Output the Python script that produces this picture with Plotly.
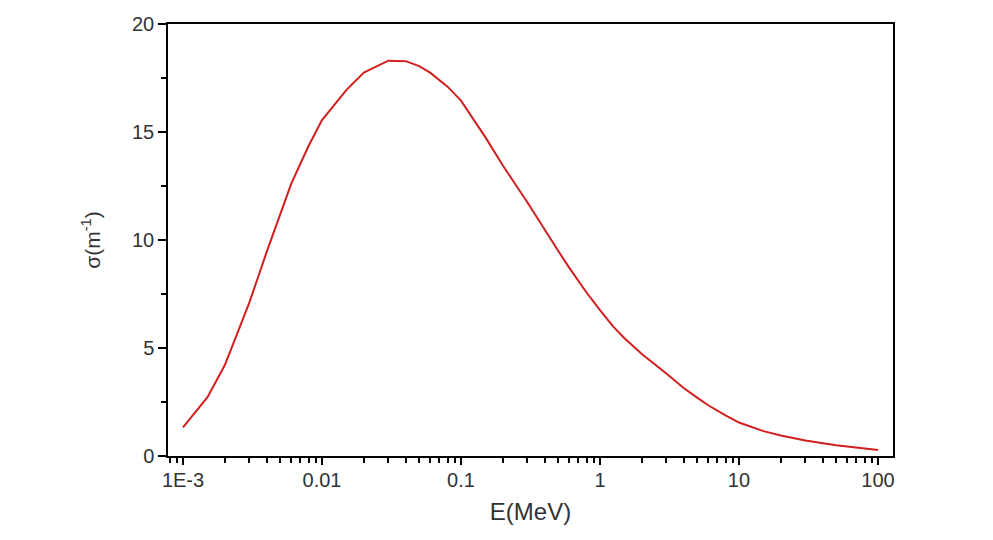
import plotly.graph_objects as go

energy_mev = [0.001, 0.0015, 0.002, 0.003, 0.004, 0.005, 0.006, 0.008,
              0.01, 0.015, 0.02, 0.03, 0.04, 0.05, 0.06, 0.08,
              0.1, 0.15, 0.2, 0.3, 0.4, 0.5, 0.6, 0.8,
              1, 1.25, 1.5, 2, 3, 4, 5, 6, 8,
              10, 15, 20, 30, 40, 50, 60, 80, 100]
sigma = [1.33, 2.72, 4.21, 7.1, 9.45, 11.2, 12.6, 14.35,
         15.55, 16.95, 17.75, 18.3, 18.28, 18.05, 17.75, 17.1,
         16.45, 14.75, 13.45, 11.75, 10.45, 9.5, 8.72, 7.57,
         6.75, 5.98, 5.45, 4.72, 3.82, 3.15, 2.7, 2.35, 1.88,
         1.55, 1.15, 0.95, 0.72, 0.58, 0.5, 0.44, 0.35, 0.28]

x_tickvals = [0.001, 0.01, 0.1, 1, 10, 100]
x_ticktext = ["1E-3", "0.01", "0.1", "1", "10", "100"]
x_minor_mantissas = [2, 3, 4, 5, 6, 7, 8, 9]
x_minor_decades = [0.0001, 0.001, 0.01, 0.1, 1, 10, 100]
y_tickvals = [0, 5, 10, 15, 20]

x_range = [-3.108, 2.108]
x_minor_vals = [m * d for d in x_minor_decades for m in x_minor_mantissas
                if 10 ** x_range[0] <= m * d <= 10 ** x_range[1]]

all_vals = x_tickvals + x_minor_vals
all_text = x_ticktext + ["" for _ in x_minor_vals]

fig = go.Figure()
fig.add_trace(go.Scatter(x=energy_mev, y=sigma, mode="lines",
                         line=dict(color="#d11f1f", width=2), showlegend=False))
# empty helper trace so the overlay axis (longer major ticks) is created
fig.add_trace(go.Scatter(x=[], y=[], xaxis="x2", yaxis="y", mode="lines",
                         showlegend=False, hoverinfo="skip"))

fig.update_layout(
    width=993, height=540,
    margin=dict(l=168, r=100, t=24, b=84),
    paper_bgcolor="white", plot_bgcolor="white",
    font=dict(family="Liberation Sans, Arial, sans-serif", color="#333333", size=20),
    xaxis=dict(
        type="log", range=x_range,
        tickmode="array", tickvals=all_vals, ticktext=all_text,
        ticks="outside", ticklen=5, tickwidth=1.5, tickcolor="black",
        showline=True, linecolor="black", linewidth=1.5, mirror=True,
        showgrid=False, zeroline=False,
        title=dict(text="E(MeV)", font=dict(size=24), standoff=13),
    ),
    xaxis2=dict(
        type="log", range=x_range, overlaying="x", anchor="y", side="bottom",
        tickmode="array", tickvals=x_tickvals, showticklabels=False,
        ticks="outside", ticklen=8, tickwidth=1.5, tickcolor="black",
        showline=False, showgrid=False, zeroline=False,
    ),
    yaxis=dict(
        range=[0, 20], tickvals=y_tickvals,
        ticks="outside", ticklen=8, tickwidth=1.5, tickcolor="black",
        minor=dict(dtick=2.5, ticks="outside", ticklen=5, tickwidth=1.5,
                   tickcolor="black", showgrid=False),
        showline=True, linecolor="black", linewidth=1.5, mirror=True,
        showgrid=False, zeroline=False,
        title=dict(text="σ(m<sup>-1</sup>)", font=dict(size=21), standoff=26),
    ),
)

fig.write_html("out.html")
